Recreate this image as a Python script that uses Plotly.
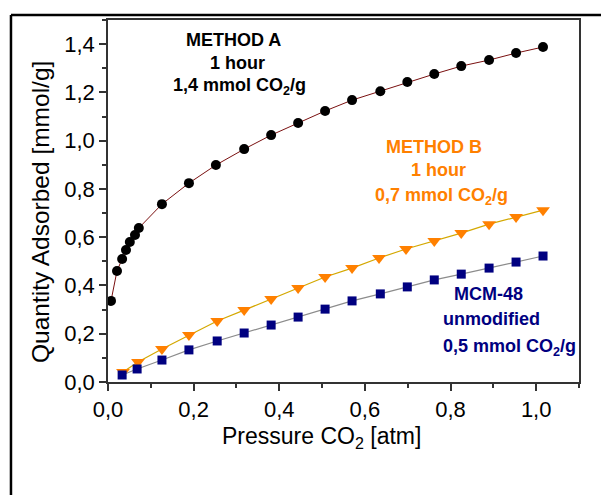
import plotly.graph_objects as go

# Method A (black circles)
a_x = [0.007, 0.021, 0.033, 0.042, 0.051, 0.063, 0.072, 0.126, 0.189, 0.252, 0.318, 0.381,
       0.444, 0.507, 0.570, 0.636, 0.699, 0.762, 0.825, 0.890, 0.953, 1.016]
a_y = [0.336, 0.460, 0.510, 0.547, 0.580, 0.609, 0.638, 0.737, 0.824, 0.899, 0.965, 1.023,
       1.073, 1.123, 1.168, 1.205, 1.243, 1.276, 1.309, 1.334, 1.363, 1.388]

# Method B (orange triangles)
b_x = [0.035, 0.070, 0.126, 0.189, 0.255, 0.318, 0.381, 0.444, 0.507, 0.570, 0.633,
       0.696, 0.762, 0.825, 0.890, 0.953, 1.016]
b_y = [0.041, 0.083, 0.137, 0.195, 0.253, 0.298, 0.344, 0.389, 0.435, 0.472, 0.514,
       0.551, 0.584, 0.617, 0.654, 0.684, 0.712]

# MCM-48 unmodified (navy squares)
m_x = [0.033, 0.068, 0.126, 0.189, 0.255, 0.318, 0.381, 0.444, 0.507, 0.570, 0.636,
       0.699, 0.762, 0.825, 0.890, 0.953, 1.016]
m_y = [0.029, 0.054, 0.091, 0.133, 0.170, 0.203, 0.236, 0.269, 0.302, 0.336, 0.365,
       0.394, 0.423, 0.447, 0.472, 0.497, 0.522]

x_title = "Pressure CO<sub>2</sub> [atm]"
y_title = "Quantity Adsorbed [mmol/g]"

FONT = "Liberation Sans, Arial, sans-serif"

fig = go.Figure()
fig.add_trace(go.Scatter(x=a_x, y=a_y, mode="lines+markers",
                         line=dict(color="#7a1010", width=1),
                         marker=dict(symbol="circle", size=10, color="black")))
fig.add_trace(go.Scatter(x=b_x, y=b_y, mode="lines+markers",
                         line=dict(color="#d4a800", width=1.2),
                         marker=dict(symbol="triangle-down", size=12, color="#ff8000")))
fig.add_trace(go.Scatter(x=m_x, y=m_y, mode="lines+markers",
                         line=dict(color="#8c8c8c", width=1.2),
                         marker=dict(symbol="square", size=9, color="#000080")))

ann = [
    ("METHOD A", 0.292, 1.417, "black"),
    ("1 hour", 0.302, 1.322, "black"),
    ("1,4 mmol CO<sub>2</sub>/g", 0.307, 1.225, "black"),
    ("METHOD B", 0.762, 0.974, "#ff8000"),
    ("1 hour", 0.771, 0.878, "#ff8000"),
    ("0,7 mmol CO<sub>2</sub>/g", 0.778, 0.770, "#ff8000"),
    ("MCM-48", 0.888, 0.365, "#000080"),
    ("unmodified", 0.895, 0.261, "#000080"),
    ("0,5 mmol CO<sub>2</sub>/g", 0.937, 0.143, "#000080"),
]
for t, x, y, c in ann:
    fig.add_annotation(x=x, y=y, text=t, showarrow=False, xref="x", yref="y",
                       font=dict(family=FONT, size=18, color=c, weight="bold"))

# axis titles (placed as in the reference, slightly off-centre)
fig.add_annotation(x=0.454, y=-0.152, xref="paper", yref="paper", text=x_title,
                   showarrow=False, xanchor="center", yanchor="middle",
                   font=dict(family=FONT, size=23, color="black"))
fig.add_annotation(x=-0.142, y=0.47, xref="paper", yref="paper", text=y_title,
                   showarrow=False, xanchor="center", yanchor="middle", textangle=-90,
                   font=dict(family=FONT, size=24.5, color="black"))

# outer frame (partially clipped box)
L, T = -0.206, 1.0138
fig.add_shape(type="line", xref="paper", yref="paper", x0=L, x1=L, y0=-0.35, y1=T,
              line=dict(color="black", width=2.5))
fig.add_shape(type="line", xref="paper", yref="paper", x0=L, x1=1.08, y0=T, y1=T,
              line=dict(color="black", width=2.5))

axis_common = dict(
    showgrid=False, zeroline=False, showline=True, mirror=True,
    linecolor="#333333", linewidth=1.5,
    ticks="outside", ticklen=7, tickwidth=1.5, tickcolor="#333333",
    tickfont=dict(family=FONT, size=22, color="black"),
    tickformat=".1f",
)
fig.update_xaxes(range=[0, 1.1], dtick=0.2, tick0=0,
                 minor=dict(dtick=0.1, ticks="outside", ticklen=4, tickwidth=1.5, tickcolor="#333333"),
                 **axis_common)
fig.update_yaxes(range=[0, 1.5], dtick=0.2, tick0=0,
                 minor=dict(dtick=0.1, ticks="outside", ticklen=4, tickwidth=1.5, tickcolor="#333333"),
                 **axis_common)

# the page adds an 8px body margin, so the figure is shifted by 8px
fig.update_layout(
    width=601, height=487,
    margin=dict(l=100, r=30, t=12, b=113, autoexpand=False),
    paper_bgcolor="white", plot_bgcolor="white",
    showlegend=False, separators=", ",
    font=dict(family=FONT),
)
fig.write_html("out.html")
